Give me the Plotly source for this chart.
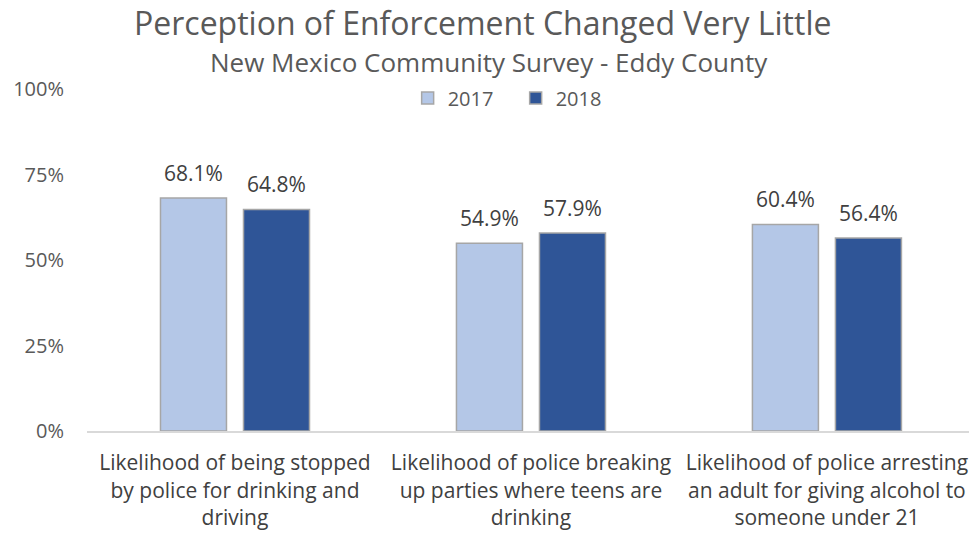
import plotly.graph_objects as go

categories = [
    "Likelihood of being stopped<br>by police for drinking and<br>driving",
    "Likelihood of police breaking<br>up parties where teens are<br>drinking",
    "Likelihood of police arresting<br>an adult for giving alcohol to<br>someone under 21",
]
values_2017 = [68.1, 54.9, 60.4]
values_2018 = [64.8, 57.9, 56.4]
tick_vals = [0, 25, 50, 75, 100]
tick_text = ["0%", "25%", "50%", "75%", "100%"]

FONT = "Open Sans"
x_idx = list(range(len(categories)))
series = [("2017", values_2017, "#b4c7e7", -41.5), ("2018", values_2018, "#2f5597", 41.5)]

fig = go.Figure()
annotations = []
for name, vals, color, dx in series:
    fig.add_trace(go.Bar(
        name=name, x=x_idx, y=vals,
        marker=dict(color=color, line=dict(color="#a6a6a6", width=1.5)),
    ))
    # value labels placed above each bar
    for xi, v in zip(x_idx, vals):
        annotations.append(dict(
            x=xi, y=v, xref="x", yref="y", xshift=dx, yshift=25,
            text=f"{v:.1f}%", showarrow=False, yanchor="middle",
            font=dict(family=FONT, size=21, color="#404040"),
        ))

annotations += [
    dict(text="Perception of Enforcement Changed Very Little", xref="paper", yref="paper",
         x=0.448, y=1.0, yshift=67, yanchor="middle", showarrow=False,
         font=dict(family=FONT, size=32, color="#595959")),
    dict(text="New Mexico Community Survey - Eddy County", xref="paper", yref="paper",
         x=0.456, y=1.0, yshift=27, yanchor="middle", showarrow=False,
         font=dict(family=FONT, size=26, color="#595959")),
]

fig.update_layout(
    width=969, height=533,
    margin=dict(l=87, r=0, t=89, b=102),
    paper_bgcolor="white", plot_bgcolor="white",
    barmode="group", bargap=0.439, bargroupgap=0.205,
    font=dict(family=FONT, color="#595959"),
    showlegend=True,
    legend=dict(orientation="h", x=0.486, xanchor="center", y=0.974, yanchor="middle",
                font=dict(family=FONT, size=20, color="#595959"),
                itemwidth=30, entrywidth=63, traceorder="normal"),
    xaxis=dict(tickmode="array", tickvals=x_idx, ticktext=categories,
               range=[-0.5, 2.48], showline=True, linecolor="#d9d9d9", linewidth=2,
               ticks="", ticklabelstandoff=12,
               tickfont=dict(family=FONT, size=21, color="#404040")),
    yaxis=dict(range=[0, 100], tickmode="array", tickvals=tick_vals, ticktext=tick_text,
               showgrid=False, zeroline=False, ticks="", ticklen=0, ticklabelstandoff=22,
               tickfont=dict(family=FONT, size=20, color="#595959")),
    annotations=annotations,
)

fig.write_html("out.html")
